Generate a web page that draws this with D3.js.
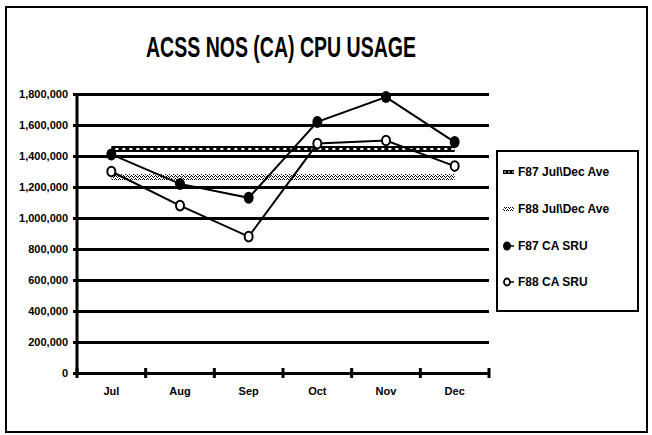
<!DOCTYPE html>
<html>
<head>
<meta charset="utf-8">
<script src="https://cdn.jsdelivr.net/npm/d3@7"></script>
<style>
  body { margin: 0; background: #fff; }
  svg text { font-family: "Liberation Sans", Arial, Helvetica, sans-serif; fill: #000; }
</style>
</head>
<body>
<div id="chart"></div>
<script>
// values
var months = ["Jul", "Aug", "Sep", "Oct", "Nov", "Dec"];
var f87Sru = [1410000, 1220000, 1130000, 1620000, 1780000, 1490000];
var f88Sru = [1300000, 1080000, 880000, 1480000, 1500000, 1335000];
var f87Ave = 1445000;
var f88Ave = 1265000;
var yTicks = [0, 200000, 400000, 600000, 800000, 1000000, 1200000, 1400000, 1600000, 1800000];
var legendLabels = ["F87 Jul\\Dec Ave", "F88 Jul\\Dec Ave", "F87 CA SRU", "F88 CA SRU"];

var W = 652, H = 435;
var margin = {top: 94, right: 163, bottom: 62, left: 77};
var width = W - margin.left - margin.right,
    height = H - margin.top - margin.bottom;

var svg = d3.select("#chart").append("svg")
    .attr("width", W)
    .attr("height", H);

// stipple pattern for the F88 average
var defs = svg.append("defs");
var pat = defs.append("pattern")
    .attr("id", "stipple")
    .attr("patternUnits", "userSpaceOnUse")
    .attr("width", 4).attr("height", 3);
[[0, 2], [1, 1], [2, 0], [3, 1]].forEach(function(p) {
    pat.append("rect").attr("x", p[0]).attr("y", p[1]).attr("width", 1).attr("height", 1).attr("fill", "#000");
});

// outer frame
svg.append("rect")
    .attr("x", 6).attr("y", 7)
    .attr("width", 641).attr("height", 425)
    .attr("fill", "none")
    .attr("stroke", "#000")
    .attr("stroke-width", 2);

// title
svg.append("text")
    .attr("x", margin.left + width / 2 - 2)
    .attr("y", 57)
    .attr("text-anchor", "middle")
    .style("font-size", "30px")
    .style("font-weight", "bold")
    .attr("textLength", 270)
    .attr("lengthAdjust", "spacingAndGlyphs")
    .text("ACSS NOS (CA) CPU USAGE");

var g = svg.append("g")
    .attr("transform", "translate(" + margin.left + "," + margin.top + ")");

var x = d3.scaleBand()
    .domain(months)
    .range([0, width]);

var y = d3.scaleLinear()
    .domain([0, 1800000])
    .range([height, 0]);

function cx(d, i) { return x(months[i]) + x.bandwidth() / 2; }

// gridlines
g.append("g")
    .attr("class", "grid")
    .call(d3.axisLeft(y).tickValues(yTicks).tickSize(-width).tickFormat(""))
    .call(function(s) {
        s.select(".domain").remove();
        s.selectAll("line").attr("stroke", "#000").attr("stroke-width", 3);
    });

// y axis
g.append("g")
    .attr("class", "y-axis axis")
    .call(d3.axisLeft(y).tickValues(yTicks).tickSize(4).tickPadding(5).tickFormat(d3.format(",")))
    .call(function(s) {
        s.select(".domain").remove();
        s.selectAll("line").attr("stroke", "#000").attr("stroke-width", 3);
        s.selectAll("text").style("font-size", "11px").style("font-weight", "bold").attr("dy", "0.35em");
    });

g.append("line")
    .attr("x1", 0).attr("x2", 0)
    .attr("y1", y(1800000)).attr("y2", y(0))
    .attr("stroke", "#000").attr("stroke-width", 3);

// x axis
g.append("g")
    .attr("class", "x-axis axis")
    .attr("transform", "translate(0," + height + ")")
    .call(d3.axisBottom(x).tickSize(0).tickPadding(14))
    .call(function(s) {
        s.select(".domain").remove();
        s.selectAll("text").style("font-size", "11px").style("font-weight", "bold");
    });

var bounds = months.map(function(m) { return x(m); }).concat([width]);
g.selectAll(".xtick")
    .data(bounds)
    .enter().append("line")
    .attr("class", "xtick")
    .attr("x1", function(d) { return d; })
    .attr("x2", function(d) { return d; })
    .attr("y1", height - 5)
    .attr("y2", height + 5)
    .attr("stroke", "#000")
    .attr("stroke-width", 3);

var xFirst = cx(null, 0), xLast = cx(null, months.length - 1);

// F88 average (stippled band)
g.append("rect")
    .attr("x", xFirst)
    .attr("y", y(f88Ave) - 3)
    .attr("width", xLast - xFirst)
    .attr("height", 6)
    .attr("fill", "url(#stipple)");

// F87 average (black band with little white openings)
g.append("line")
    .attr("x1", xFirst).attr("x2", xLast)
    .attr("y1", y(f87Ave)).attr("y2", y(f87Ave))
    .attr("stroke", "#000").attr("stroke-width", 6);
g.append("line")
    .attr("x1", xFirst + 4).attr("x2", xLast)
    .attr("y1", y(f87Ave)).attr("y2", y(f87Ave))
    .attr("stroke", "#fff").attr("stroke-width", 2)
    .attr("stroke-dasharray", "3,4");

var line = d3.line()
    .x(cx)
    .y(function(d) { return y(d); });

g.append("path")
    .datum(f87Sru)
    .attr("d", line)
    .attr("fill", "none").attr("stroke", "#000").attr("stroke-width", 2);

g.append("path")
    .datum(f88Sru)
    .attr("d", line)
    .attr("fill", "none").attr("stroke", "#000").attr("stroke-width", 2);

g.selectAll(".dot87")
    .data(f87Sru)
    .enter().append("ellipse")
    .attr("class", "dot87")
    .attr("cx", cx)
    .attr("cy", function(d) { return y(d); })
    .attr("rx", 5).attr("ry", 6)
    .attr("fill", "#000");

g.selectAll(".dot88")
    .data(f88Sru)
    .enter().append("ellipse")
    .attr("class", "dot88")
    .attr("cx", cx)
    .attr("cy", function(d) { return y(d); })
    .attr("rx", 4).attr("ry", 4.8)
    .attr("fill", "#fff")
    .attr("stroke", "#000").attr("stroke-width", 2);

// legend
var legend = svg.append("g").attr("transform", "translate(497,151)");
legend.append("rect")
    .attr("width", 141).attr("height", 160)
    .attr("fill", "#fff")
    .attr("stroke", "#000").attr("stroke-width", 2);

var rows = [21, 58, 95, 131];

var items = legend.selectAll(".item")
    .data(legendLabels)
    .enter().append("g")
    .attr("class", "item")
    .attr("transform", function(d, i) { return "translate(0," + rows[i] + ")"; });

items.append("text")
    .attr("x", 21)
    .attr("dy", "0.35em")
    .style("font-size", "12px")
    .style("font-weight", "bold")
    .text(function(d) { return d; });

// symbols
var s0 = d3.select(items.nodes()[0]);
s0.append("line").attr("x1", 6).attr("x2", 17).attr("stroke", "#000").attr("stroke-width", 4);
s0.append("line").attr("x1", 7).attr("x2", 17).attr("stroke", "#fff").attr("stroke-width", 1.2).attr("stroke-dasharray", "2,2");

var s1 = d3.select(items.nodes()[1]);
s1.append("rect").attr("x", 6).attr("y", -2).attr("width", 11).attr("height", 4).attr("fill", "url(#stipple)");

var s2 = d3.select(items.nodes()[2]);
s2.append("line").attr("x1", 10).attr("x2", 17).attr("stroke", "#000").attr("stroke-width", 1.5);
s2.append("ellipse").attr("cx", 10).attr("rx", 4).attr("ry", 4.5).attr("fill", "#000");

var s3 = d3.select(items.nodes()[3]);
s3.append("line").attr("x1", 10).attr("x2", 17).attr("stroke", "#000").attr("stroke-width", 1.5);
s3.append("ellipse").attr("cx", 10).attr("rx", 3).attr("ry", 3.5).attr("fill", "#fff").attr("stroke", "#000").attr("stroke-width", 1.8);
</script>
</body>
</html>
